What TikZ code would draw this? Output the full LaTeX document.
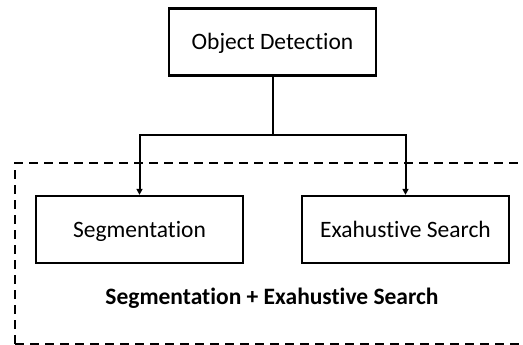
\documentclass[tikz,border=0pt]{standalone}
\usepackage{fontspec}
\setmainfont[Ligatures=NoCommon]{Carlito}
\usetikzlibrary{arrows.meta}
\begin{document}
\begin{tikzpicture}[x=1pt,y=-1pt,
  box/.style={draw,line width=2.3pt,minimum width=207pt,minimum height=67pt,inner sep=0pt,text height=15pt,text depth=0pt,font=\fontsize{23.5}{28}\selectfont},
  conn/.style={line width=2pt},
  arr/.style={conn,-{Triangle[length=6pt,width=6pt]}},
  grp/.style={line width=2.2pt,dash pattern=on 9pt off 6pt}]
\useasboundingbox (0,0) rectangle (523,345);
\draw[grp] (15,344) -- (15,163) -- (530,163);
\draw[grp] (15,344) -- (530,344);
\node[box] (od) at (272.5,42) {Object Detection};
\node[box] (seg) at (139.5,229.5) {Segmentation};
\node[box] (ex) at (405.5,229.5) {Exahustive Search};
\node[font=\fontsize{23.5}{28}\selectfont\bfseries,text height=15pt,text depth=0pt] (lbl) at (272,297) {Segmentation + Exahustive Search};
\coordinate (j) at (od.south |- 0,135);
\draw[conn] (od.south) -- (j);
\draw[arr] (j) -| (seg.north);
\draw[arr] (j) -| (ex.north);
\end{tikzpicture}
\end{document}
